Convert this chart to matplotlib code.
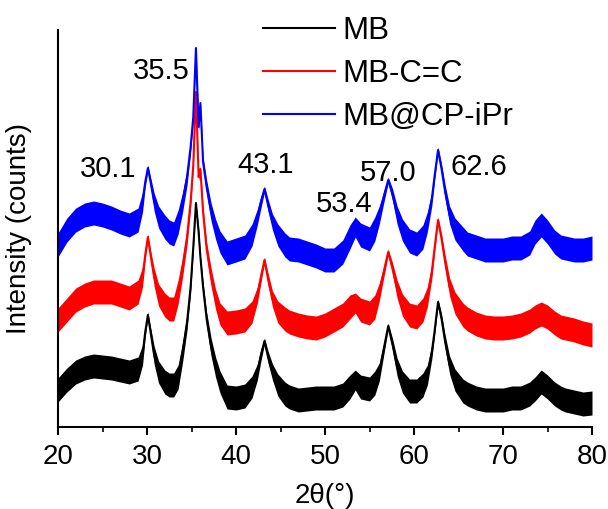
import numpy as np
import matplotlib
matplotlib.use("Agg")
import matplotlib.pyplot as plt

plt.rcParams['font.family'] = ['Liberation Sans', 'DejaVu Sans']

# 2theta sample points (denser around the peaks)
two_theta = [20, 21, 22, 23, 24, 25, 26, 27, 28, 29,
             29.5, 29.8, 30.1, 30.4, 30.8, 31.3, 32, 32.5, 33, 33.5,
             34, 34.5, 34.9, 35.2, 35.5, 35.8, 36.0, 36.3, 36.7, 37.2,
             37.7, 38.2, 39, 40, 41,
             41.8, 42.4, 42.8, 43.2, 43.6, 44.1, 44.7, 45.5, 46, 47,
             48, 49, 50, 51, 52, 52.8, 53.4, 54, 55,
             55.6, 56.1, 56.6, 57.1, 57.6, 58.1, 58.7, 59.5, 60.3, 61,
             61.5, 62, 62.3, 62.7, 63.1, 63.5, 64, 64.6, 65.5, 66,
             67, 68, 69, 70, 71, 72, 73, 73.6, 74.3, 75,
             75.8, 76.5, 77, 78, 79, 80]

# stacked intensities (offset already included), arbitrary counts
mb = [37, 47, 55, 59, 61, 60, 59, 57, 55, 58,
      72, 95, 112, 95, 72, 55, 45, 42, 42, 50,
      75, 105, 140, 180, 224, 195, 170, 140, 108, 80,
      60, 45, 30, 29, 31,
      40, 55, 72, 86, 70, 55, 42, 33, 30, 27,
      28, 29, 29, 29, 32, 40, 47, 40, 38,
      44, 55, 78, 101, 82, 60, 45, 36, 36, 42,
      52, 75, 95, 125, 108, 85, 62, 47, 36, 33,
      29, 27, 27, 27, 29, 29, 33, 38, 45, 40,
      33, 29, 27, 25, 23, 24]

mb_cc = [107, 117, 127, 132, 135, 135, 135, 132, 129, 135,
         150, 172, 190, 172, 150, 132, 122, 118, 118, 135,
         160, 190, 225, 262, 335, 250, 258, 215, 178, 150,
         128, 113, 104, 105, 107,
         115, 132, 150, 167, 148, 128, 115, 108, 105, 102,
         100, 99, 102, 107, 112, 120, 124, 117, 114,
         120, 135, 155, 175, 158, 138, 122, 112, 110, 117,
         130, 155, 178, 207, 188, 165, 140, 124, 112, 108,
         103, 100, 99, 99, 100, 102, 106, 110, 113, 110,
         104, 100, 99, 97, 94, 92]

mb_cp = [182, 197, 207, 212, 214, 212, 209, 205, 202, 207,
         225, 245, 259, 245, 225, 210, 200, 195, 193, 205,
         225, 250, 280, 310, 379, 300, 324, 265, 240, 215,
         198, 185, 174, 177, 180,
         192, 210, 225, 238, 222, 205, 192, 182, 178, 177,
         174, 171, 167, 167, 175, 190, 200, 192, 188,
         198, 212, 230, 247, 232, 212, 197, 186, 183, 190,
         205, 228, 250, 277, 258, 235, 212, 198, 188, 183,
         180, 177, 177, 177, 179, 179, 184, 195, 202, 195,
         185, 180, 179, 177, 177, 179]

# half-width of the noise band around each curve
noise = [12, 12, 12, 12, 12, 12, 12, 12, 12, 12,
         10, 5, 3, 5, 9, 11, 12, 12, 12, 12,
         10, 8, 6, 4, 2, 4, 2, 5, 7, 9,
         10, 11, 12, 12, 12,
         11, 8, 6, 3, 6, 8, 11, 12, 12, 12,
         12, 12, 12, 12, 12, 12, 10, 12, 12,
         12, 9, 6, 3, 6, 9, 11, 12, 12, 12,
         10, 7, 5, 3, 5, 7, 9, 11, 12, 12,
         12, 12, 12, 12, 12, 12, 12, 12, 12, 12,
         12, 12, 12, 12, 12, 12]

labels = ['MB', 'MB-C=C', 'MB@CP-iPr']
colors = ['black', 'red', 'blue']

peak_labels = ['30.1', '35.5', '43.1', '53.4', '57.0', '62.6']
peak_label_pos = [(25.6, 258), (31.6, 356), (43.3, 262), (52.2, 223), (57.1, 254), (67.3, 260)]

x = np.array(two_theta)
band = np.array(noise)

fig = plt.figure(figsize=(6.08, 5.09), dpi=100)
ax = fig.add_axes([58/608, 1-427/509, (592-58)/608, (427-30)/509])

for series, color, label in zip([mb, mb_cc, mb_cp], colors, labels):
    y = np.array(series)
    ax.fill_between(x, y - band, y + band, color=color, lw=0)
    ax.plot(x, y, color=color, lw=1.5, label=label)

for txt, (px, py) in zip(peak_labels, peak_label_pos):
    ax.text(px, py, txt, fontsize=21, ha='center', va='center')

ax.set_xlim(20, 80)
ax.set_ylim(0, 397)
ax.set_xticks(range(20, 81, 10))
ax.set_xticks(range(25, 80, 10), minor=True)
ax.set_yticks([])
for s in ['top', 'right']:
    ax.spines[s].set_visible(False)
for s in ['left', 'bottom']:
    ax.spines[s].set_linewidth(1.5)
ax.tick_params(axis='x', which='major', length=6, width=1.5, labelsize=20, pad=6.5)
ax.tick_params(axis='x', which='minor', length=3.5, width=1.2)
ax.set_xlabel('2θ(°)', fontsize=20, labelpad=9)
ax.set_ylabel('Intensity (counts)', fontsize=20, labelpad=19)

ax.legend(loc='upper left', bbox_to_anchor=(263/608, 1-16/509), bbox_transform=fig.transFigure,
          frameon=False, fontsize=22.5, handlelength=2.3, handletextpad=0.25,
          labelspacing=0.42, borderpad=0, borderaxespad=0)

fig.savefig('out.png', dpi=100)
